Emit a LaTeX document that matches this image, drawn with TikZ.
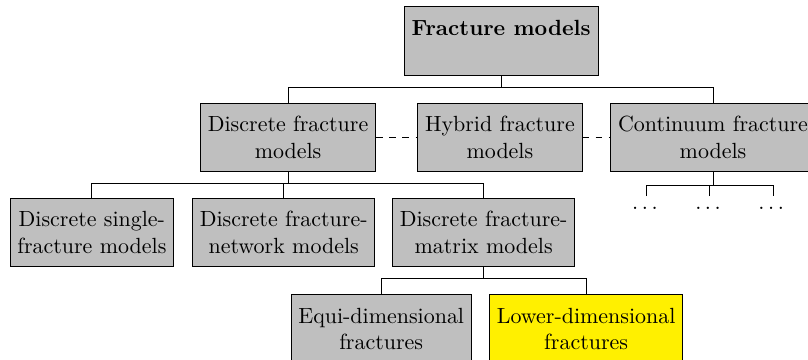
\documentclass[tikz,border=0pt]{standalone}
\usepackage{amsmath}
\usepackage{amssymb}
\usepackage{tikz}

\definecolor{lowyellow}{RGB}{255,240,0}
\tikzset{box/.style={draw, fill=lightgray, align=center, minimum height=1.1cm},
	dotnode/.style={inner sep=5pt}}

\begin{document}
\begin{tikzpicture}
			\useasboundingbox (0,0) rectangle (12.93,-5.76);
			\node[box] (frac) at (8.02,-0.66) {\textbf{Fracture models}\\ \mbox{}};
			%%%%%%%%%%%%%%%%%%%%%%%%%%%%%%%%
			\node[box] (disc) at (4.61,-2.2) {Discrete fracture\\models};
			\node[box] (hyb) at (8.0,-2.2) {Hybrid fracture\\models};
			\node[box] (cont) at (11.41,-2.2) {Continuum fracture\\models};
			\draw[dashed] (disc) -- (hyb);
			\draw[dashed] (hyb) -- (cont);
			\draw (frac.south) -- ++(0,-0.19) coordinate (t1);
			\draw (disc.north) |- (t1) -| (cont.north);
			%%%%%%%%%%%%%%%%%%%%%%%%%%%%%%%%
			\node[box] (single) at (1.47,-3.72) {Discrete single-\\fracture models};
			\node[box] (network) at (4.54,-3.72) {Discrete fracture-\\network models};
			\node[box] (matrix) at (7.74,-3.72) {Discrete fracture-\\matrix models};
			\draw (disc.south) -- ++(0,-0.176) coordinate (t2);
			\draw (single.north) |- (t2) -| (matrix.north);
			\draw (network.north) -- (network.north |- t2);
			%%%%%%%%%%%%%%%%%%%%%%%%%%%%%
			\node[dotnode] (dotsa) at (10.35,-3.34) {$\dots$};
			\node[dotnode] (dotsb) at (11.36,-3.34) {$\dots$};
			\node[dotnode] (dotsc) at (12.37,-3.34) {$\dots$};
			\draw (cont.south) -- ++(0,-0.21) coordinate (t3);
			\draw (dotsa.north) |- (t3) -| (dotsc.north);
			\draw (dotsb.north) -- (dotsb.north |- t3);
			%%%%%%%%%%%%%%%%%%%%%%%%%%%%%
			\node[box] (equi) at (6.1,-5.26) {Equi-dimensional\\fractures};
			\node[box, fill=lowyellow] (lower) at (9.38,-5.26) {Lower-dimensional\\fractures};
			\draw (matrix.south) -- ++(0,-0.176) coordinate (t4);
			\draw (equi.north) |- (t4) -| (lower.north);
		\end{tikzpicture}
\end{document}
